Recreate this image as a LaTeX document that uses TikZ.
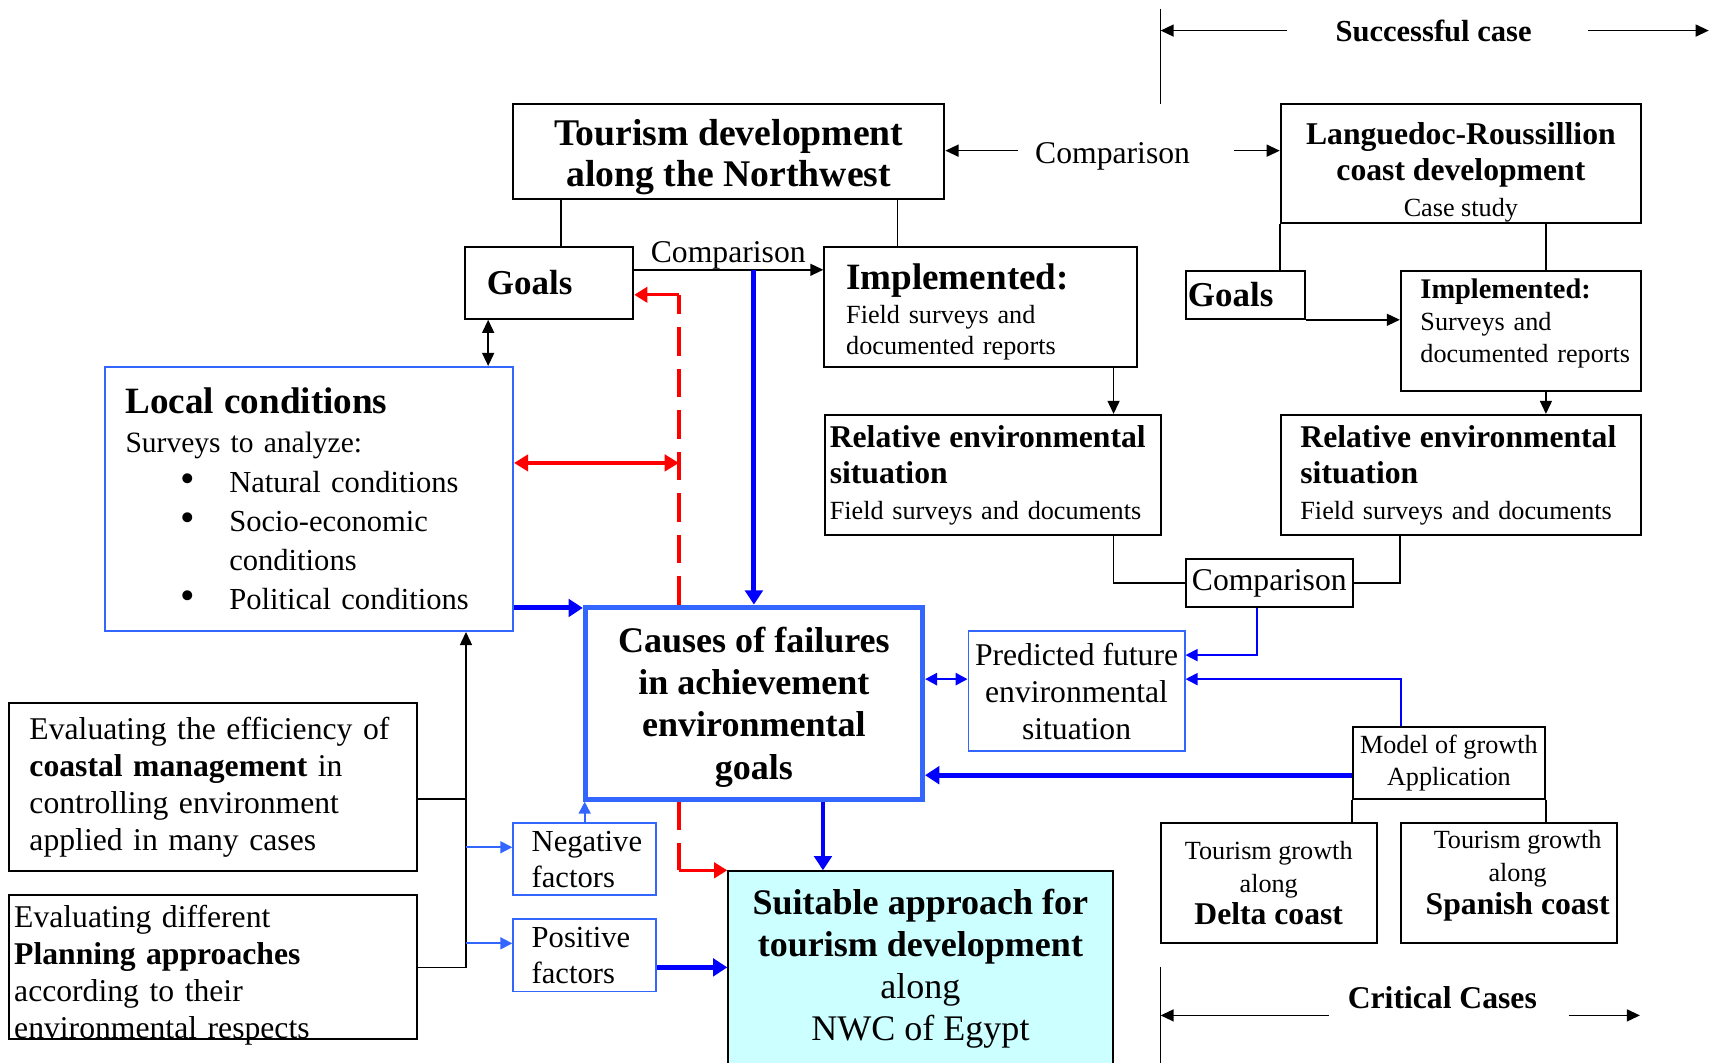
\documentclass[tikz,border=0pt]{standalone}
\usepackage{fontspec}
\setmainfont{Liberation Serif}
\usetikzlibrary{arrows.meta, positioning}

\definecolor{boxblue}{RGB}{51,102,255}
\definecolor{linkblue}{RGB}{0,0,255}
\definecolor{suitcyan}{RGB}{204,255,255}
\newcommand{\fsz}[2]{\fontsize{#1}{#2}\selectfont}

\begin{document}
\begin{tikzpicture}[x=1pt, y=-1pt,
    blackbox/.style={draw, line width=1.8pt, rectangle, inner sep=0pt},
    bluebox/.style={draw=boxblue, line width=1.6pt, rectangle, inner sep=0pt},
    link/.style={line width=1.4pt},
    arr/.style={line width=1.4pt, ->, >={Triangle[length=12pt,width=11pt]}},
    darr/.style={line width=1.4pt, <->, >={Triangle[length=12pt,width=11pt]}},
    bline/.style={draw=linkblue, line width=1.6pt, ->, >={Triangle[length=11pt,width=11pt]}},
    lbline/.style={draw=boxblue, line width=1.6pt, ->, >={Triangle[length=11pt,width=11pt]}},
    bthick/.style={draw=linkblue, line width=4.5pt, ->, >={Triangle[length=13pt,width=16pt]}},
    rarr/.style={draw=red, line width=3pt, ->, >={Triangle[length=12pt,width=14pt]}},
    rdash/.style={draw=red, line width=4pt, dash pattern=on 26pt off 12pt},
]
\useasboundingbox (0,0) rectangle (1568,973);

    % case headers
    \node[font=\fsz{28}{34}\bfseries, inner sep=0pt] (succ) at (1313,28) {Successful case};
    \coordinate (succTop) at (1063,8);
    \coordinate (succBot) at (1063,95);
    \coordinate (succEnd) at (1565,28);
    \draw[link] (succTop) -- (succBot);
    \draw[arr] ([xshift=-44pt]succ.west) -- (succ.west -| succTop);
    \draw[arr] ([xshift=51pt]succ.east) -- (succEnd);

    \node[font=\fsz{29}{34}\bfseries, inner sep=0pt] (crit) at (1321,914) {Critical Cases};
    \coordinate (critTop) at (1063,886);
    \coordinate (critBot) at (1063,975);
    \coordinate (critL) at (1063,930);
    \coordinate (critR) at (1502,930);
    \draw[link] (critTop) -- (critBot);
    \draw[arr] ([xshift=-17pt]crit.west |- critL) -- (critL);
    \draw[arr] ([xshift=29pt]crit.east |- critR) -- (critR);

    % Northwest case
    \node[blackbox, minimum width=395pt, minimum height=87pt, align=center, font=\fsz{34.5}{38}\bfseries] (tour) at (667.5,138.5)
        {\rule{0pt}{35pt}Tourism development\\along the Northwest};
    \node[blackbox, minimum height=66pt, text width=114pt, inner xsep=20pt, align=left, font=\fsz{32}{38}\bfseries] (goalsL) at (503,259) {Goals};
    \node[blackbox, minimum height=110pt, text width=246pt, inner xsep=20pt, align=left, font=\fsz{24}{29}] (implL) at (898,281)
        {{\fsz{34}{38}\bfseries\rule{0pt}{33pt}Implemented:}\\[2pt]Field surveys and\\documented reports};
    \node[blackbox, minimum height=110pt, text width=299pt, inner xsep=4pt, align=left, font=\fsz{24}{33}] (rel1) at (909.5,435)
        {{\bfseries\fsz{29}{33}Relative~environmental\\situation}\\Field~surveys~and~documents};
    \node[font=\fsz{29}{34}, anchor=base, inner sep=0pt] (cmpMid) at (667,240) {Comparison};
    \node[font=\fsz{29}{34}, inner ysep=0pt, inner xsep=16pt] (cmpTop) at (1019,143) {Comparison};

    % Languedoc-Roussillion case
    \node[blackbox, minimum width=330pt, minimum height=109pt, align=center, font=\fsz{29}{33}\bfseries] (langu) at (1338,149.5)
        {\rule{0pt}{36pt}Languedoc-Roussillion\\coast development\\{\mdseries\fsz{24}{29}Case study}};
    \node[blackbox, minimum height=44pt, text width=105pt, inner xsep=2pt, align=left, font=\fsz{32}{38}\bfseries] (goalsR) at (1140.5,270) {Goals};
    \node[blackbox, minimum height=110pt, text width=184pt, inner xsep=18pt, align=left, font=\fsz{24}{29.5}] (impl2) at (1393,303)
        {{\fsz{26}{30}\bfseries Implemented:}\\Surveys and\\\mbox{documented reports}\rule[-19pt]{0pt}{0pt}};
    \node[blackbox, minimum height=110pt, text width=294pt, inner xsep=18pt, align=left, font=\fsz{24}{33}] (rel2) at (1338,435)
        {{\bfseries\fsz{29}{33}Relative~environmental\\situation}\\Field~surveys~and~documents};
    \node[blackbox, minimum width=153pt, minimum height=44pt, font=\fsz{29}{34}] (cmpBox) at (1162.5,534) {Comparison};

    % centre
    \node[bluebox, minimum height=242pt, text width=336pt, inner xsep=19pt, align=left, font=\fsz{28}{36}] (local) at (283,457)
        {{\fsz{34}{36}\bfseries Local conditions}\\
         {\fsz{27}{36}Surveys to analyze:}\\
         \hspace*{50pt}\makebox[45pt][l]{\fsz{38}{36}\textbullet}Natural conditions\\
         \hspace*{50pt}\makebox[45pt][l]{\fsz{38}{36}\textbullet}Socio-economic\\
         \hspace*{95pt}conditions\\
         \hspace*{50pt}\makebox[45pt][l]{\fsz{38}{36}\textbullet}Political conditions};
    \node[draw=boxblue, line width=4.5pt, inner sep=0pt, minimum width=309pt, minimum height=176pt, align=center, font=\fsz{33}{38.7}\bfseries] (causes) at (690.5,644)
        {\rule{0pt}{30.5pt}Causes of failures\\in achievement\\environmental\\goals};
    \node[bluebox, minimum width=198pt, minimum height=110pt, align=center, font=\fsz{29}{34}] (pred) at (986,633) {Predicted future\\environmental\\situation};
    \node[blackbox, minimum width=176pt, minimum height=66pt, align=center, font=\fsz{24}{29}] (model) at (1327,699) {Model of growth\\Application};
    \node[blackbox, minimum width=198pt, minimum height=110pt, align=center, font=\fsz{24}{30}] (delta) at (1162,809)
        {Tourism growth\\along\\{\fsz{29}{30}\bfseries Delta coast}};
    \node[blackbox, minimum width=198pt, minimum height=110pt, align=center, font=\fsz{24}{30}] (spanish) at (1382,809)
        {\hspace*{16pt}Tourism growth\\\hspace*{16pt}along\\{\fsz{29}{30}\bfseries\hspace*{16pt}Spanish coast}\\[-10pt]};

    % lower left
    \node[blackbox, minimum height=154pt, text width=336pt, inner xsep=19pt, align=left, font=\fsz{29}{34}] (eval1) at (195,721)
        {Evaluating the efficiency of\\\textbf{coastal management} in\\controlling environment\\applied in many cases};
    \node[blackbox, minimum height=132pt, text width=364pt, inner xsep=5pt, align=left, font=\fsz{29}{34}] (eval2) at (195,886)
        {\rule{0pt}{29pt}Evaluating different\\\textbf{Planning approaches}\\according to their\\\raisebox{0pt}[\height][0pt]{environmental respects}};
    \node[bluebox, minimum height=66pt, text width=97pt, inner xsep=17pt, align=left, font=\fsz{28}{33}] (neg) at (535.5,787) {Negative\\factors};
    \node[bluebox, minimum height=66pt, text width=97pt, inner xsep=17pt, align=left, font=\fsz{28}{33}] (pos) at (535.5,875) {Positive\\factors};
    \node[draw, line width=1.8pt, fill=suitcyan, inner sep=0pt, minimum width=352pt, minimum height=178pt, align=center, font=\fsz{33}{38.5}] (suit) at (843,887)
        {{\bfseries Suitable approach for}\\{\bfseries tourism development}\\along\\NWC of Egypt};

    % help points
    \coordinate (ctl) at ([yshift=5pt]cmpTop.west);
    \coordinate (ctr) at ([xshift=24pt,yshift=5pt]cmpTop.east);
    \coordinate (t1) at ([xshift=11pt]goalsL.north);
    \coordinate (t2) at ([xshift=-76pt]implL.north);
    \coordinate (gl) at ([yshift=-22pt]goalsL.north east);
    \coordinate (gd) at ([xshift=22pt]goalsL.south west);
    \coordinate (rx) at ([xshift=88pt]causes.north west);
    \coordinate (gr) at ([yshift=-11pt]goalsL.east);
    \coordinate (lr) at ([yshift=33pt]local.east);
    \coordinate (lb) at ([yshift=22pt]local.south east);
    \coordinate (i1) at ([xshift=-22pt]implL.south east);
    \coordinate (i2) at ([xshift=-88pt]impl2.north east);
    \coordinate (i2b) at ([xshift=-88pt]impl2.south east);
    \coordinate (r1) at ([xshift=-44pt]rel1.south east);
    \coordinate (r2) at ([xshift=110pt]rel2.south west);
    \coordinate (cb) at ([xshift=-11pt]cmpBox.south);
    \coordinate (pe1) at ([yshift=33pt]pred.east);
    \coordinate (mt) at ([xshift=-44pt]model.north);
    \coordinate (pe2) at ([yshift=11pt]pred.east);
    \coordinate (mw) at ([yshift=-11pt]model.west);
    \coordinate (ce) at ([yshift=22pt]causes.east);
    \coordinate (rb) at ([xshift=88pt]causes.south west);
    \coordinate (cs) at ([xshift=220pt]causes.south west);
    \coordinate (pp) at ([yshift=-11pt]pos.east);
    \coordinate (vx) at ([xshift=-44pt]local.south east);
    \coordinate (e1) at ([yshift=-11pt]eval1.east);
    \coordinate (nw) at ([yshift=11pt]neg.west);
    \coordinate (pw) at ([yshift=11pt]pos.west);

    % black links
    \draw[link] (t1) -- (t1 |- tour.south);
    \draw[link] (t2) -- (t2 |- tour.south);
    \draw[arr] (gl) -- (gl -| implL.west);
    \draw[darr] (gd) -- (gd |- local.north);
    \draw[arr] (ctl) -- (ctl -| tour.east);
    \draw[arr] (ctr) -- (ctr -| langu.west);
    \draw[arr] (i1) -- (i1 |- rel1.north);
    \draw[link] (langu.south west) -- (langu.south west |- goalsR.north);
    \draw[link] (i2) -- (i2 |- langu.south);
    \draw[arr] (goalsR.south east) -- (goalsR.south east -| impl2.west);
    \draw[arr] (i2b) -- (i2b |- rel2.north);
    \draw[link] (r1) |- (cmpBox.west);
    \draw[link] (r2) |- (cmpBox.east);
    \draw[link] (model.south west) -- (model.south west |- delta.north);
    \draw[link] (model.south east) -- (model.south east |- spanish.north);
    \draw[link] (e1) -- (e1 -| vx);
    \draw[arr] (eval2.east) -| (vx);

    % blue links
    \draw[bthick] (gl -| causes.north) -- (causes.north);
    \draw[bthick] (lb) -- (lb -| causes.west);
    \draw[bline] (cb) |- (pe1);
    \draw[bline] (mt) |- (pe2);
    \draw[bthick] (mw) -- (mw -| causes.east);
    \draw[bline, <->, line width=2.5pt] (ce) -- (ce -| pred.west);
    \draw[lbline] (neg.north) -- (neg.north |- causes.south);
    \draw[bthick] (cs) -- (cs |- suit.north);
    \draw[bthick] (pp) -- (pp -| suit.west);
    \draw[lbline] (nw -| vx) -- (nw);
    \draw[lbline] (pw -| vx) -- (pw);

    % red links
    \draw[rdash] (rx) -- (rx |- gr);
    \draw[rarr] (rx |- gr) -- (gr);
    \draw[draw=red, line width=4pt, <->, >={Triangle[length=13pt,width=15pt]}] (lr) -- (lr -| rx);
    \draw[rdash] (rb) -- (rb |- suit.north);
    \draw[rarr] (rb |- suit.north) -- (suit.north west);
\end{tikzpicture}
\end{document}
